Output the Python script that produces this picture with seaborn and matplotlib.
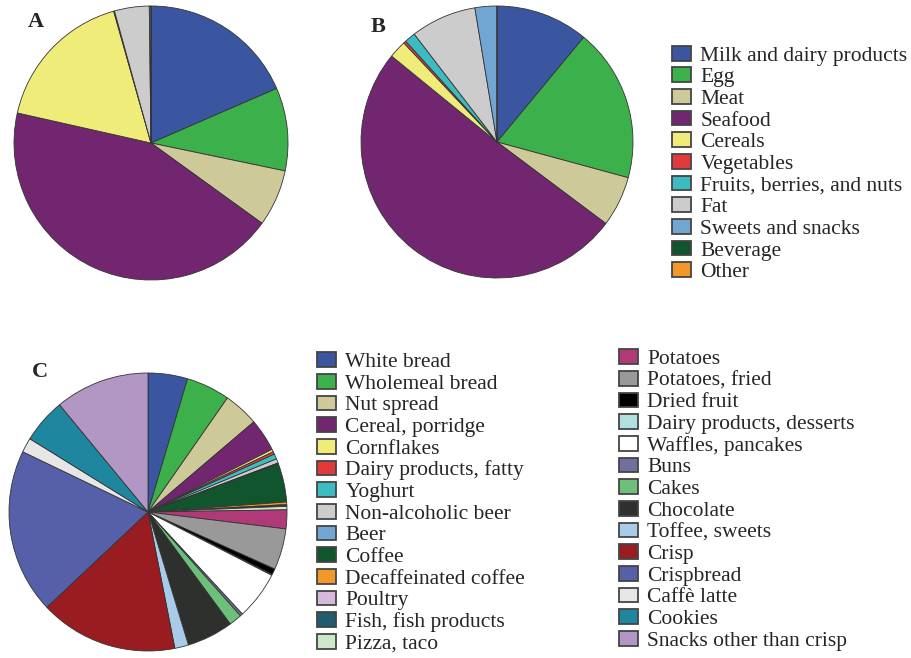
import matplotlib
matplotlib.use("Agg")
import matplotlib.pyplot as plt
from matplotlib.patches import Patch
import seaborn as sns

sns.set_theme(style="white")
plt.rcParams["font.family"] = ["Liberation Serif", "DejaVu Serif"]

# --- data ---
groups = ["Milk and dairy products", "Egg", "Meat", "Seafood", "Cereals", "Vegetables",
          "Fruits, berries, and nuts", "Fat", "Sweets and snacks", "Beverage", "Other"]
group_colors = ["#3a56a0", "#3cb04a", "#cdc998", "#722670", "#f0ec7a", "#e03a3c",
                "#3cbcc0", "#cccccc", "#72a6d2", "#11552e", "#f0982a"]
share_a = [18.5, 9.8, 6.7, 43.6, 17.1, 0.1, 0.0, 4.1, 0.2, 0.0, 0.0]
share_b = [11.0, 18.2, 6.0, 50.6, 2.1, 0.3, 1.3, 7.8, 2.6, 0.0, 0.0]

foods = ["White bread", "Wholemeal bread", "Nut spread", "Cereal, porridge", "Cornflakes",
         "Dairy products, fatty", "Yoghurt", "Non-alcoholic beer", "Beer", "Coffee",
         "Decaffeinated coffee", "Poultry", "Fish, fish products", "Pizza, taco",
         "Potatoes", "Potatoes, fried", "Dried fruit", "Dairy products, desserts",
         "Waffles, pancakes", "Buns", "Cakes", "Chocolate", "Toffee, sweets", "Crisp",
         "Crispbread", "Caffè latte", "Cookies", "Snacks other than crisp"]
food_colors = ["#3a56a0", "#3cb04a", "#cdc998", "#722670", "#f0ec7a", "#e03a3c",
               "#3cbcc0", "#cccccc", "#72a6d2", "#11552e", "#f0982a", "#d6b8dc",
               "#1f5c70", "#cde8c8", "#b03a78", "#999999", "#000000", "#b0e0e0",
               "#ffffff", "#70709c", "#6cc07a", "#2e302e", "#a8cce8", "#981c20",
               "#5660a8", "#e6e6e6", "#1f86a0", "#b296c4"]
share_c = [4.6, 5.1, 4.1, 3.8, 0.3, 0.3, 0.6, 0.5, 0.1, 4.5,
           0.3, 0.1, 0.1, 0.4, 2.2, 4.8, 0.7, 0.1, 5.6, 0.3,
           1.5, 5.4, 1.6, 16.1, 19.2, 1.7, 5.2, 11.0]

W, H = 912, 658
fig = plt.figure(figsize=(W / 100, H / 100), dpi=100)


def pie_axes(cx, cy, r):
    return fig.add_axes([(cx - r) / W, (H - cy - r) / H, 2 * r / W, 2 * r / H])


def draw_pie(ax, values, colors):
    ax.pie(values, colors=colors, startangle=90, counterclock=False,
           wedgeprops=dict(edgecolor="#333333", linewidth=0.6))
    ax.set_xlim(-1, 1)
    ax.set_ylim(-1, 1)
    ax.axis("off")


ax_a = pie_axes(151, 143, 137)
draw_pie(ax_a, share_a, group_colors)
ax_b = pie_axes(497, 142, 136)
draw_pie(ax_b, share_b, group_colors)
ax_c = pie_axes(148, 512, 139)
draw_pie(ax_c, share_c, food_colors)

for x, y, s in [(36, 22, "A"), (378, 27, "B"), (40, 372, "C")]:
    fig.text(x / W, 1 - y / H, s, fontsize=16, fontweight="bold", ha="center", va="center")

leg_kw = dict(frameon=False, fontsize=15.5, handlelength=0.9, handleheight=0.68,
              handletextpad=0.42, labelspacing=0.08, borderpad=0, borderaxespad=0,
              loc="center left")


def handles(labels, colors):
    return [Patch(facecolor=c, edgecolor="#444444", linewidth=1.3, label=l)
            for l, c in zip(labels, colors)]


fig.legend(handles=handles(groups, group_colors), bbox_to_anchor=(672 / W, 1 - 164 / H), **leg_kw)
fig.legend(handles=handles(foods[:14], food_colors[:14]), bbox_to_anchor=(317 / W, 1 - 503 / H), **leg_kw)
fig.legend(handles=handles(foods[14:], food_colors[14:]), bbox_to_anchor=(619 / W, 1 - 500 / H), **leg_kw)

fig.savefig("out.png", dpi=100, facecolor="white")
